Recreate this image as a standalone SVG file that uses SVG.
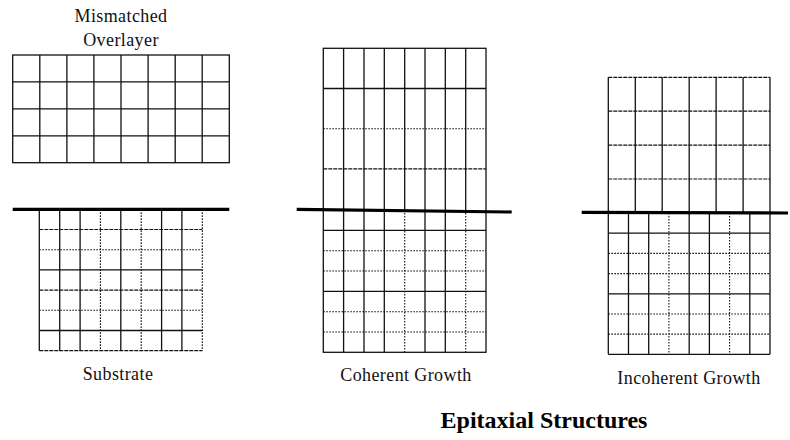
<svg xmlns="http://www.w3.org/2000/svg" width="790" height="440" viewBox="0 0 790 440">
<style>
.g{fill:none;stroke:#111;stroke-width:1.3}
.d{fill:none;stroke:#111;stroke-width:1.1;stroke-dasharray:1.6 1.4}
.f{fill:none;stroke:#111;stroke-width:1.2;stroke-dasharray:4 1}
.t{stroke:#000;stroke-width:3.2;fill:none}
.lb{font-family:"Liberation Serif","Times New Roman",serif;font-size:18px;fill:#111;text-anchor:middle;letter-spacing:0.4px}
.ti{font-family:"Liberation Serif","Times New Roman",serif;font-size:24px;font-weight:bold;fill:#000;text-anchor:middle}
</style>
<rect width="790" height="440" fill="#fff"/>
<g id="mismatched-overlayer">
<rect class="g" x="12.7" y="55" width="216.6" height="107.7"/>
<path class="g" d="M39.8 55V162.7M66.9 55V162.7M93.9 55V162.7M121 55V162.7M148.1 55V162.7M175.2 55V162.7M202.2 55V162.7M12.7 81.9H229.3M12.7 108.9H229.3M12.7 135.8H229.3"/>
<text class="lb" x="121" y="22">Mismatched</text>
<text class="lb" x="121" y="46">Overlayer</text>
</g>
<g id="substrate">
<path class="g" d="M39.3 209.3V350.7M59.7 209.3V350.7M80.1 209.3V350.7M120.8 209.3V350.7M161.6 209.3V350.7M181.9 209.3V350.7"/>
<path class="d" d="M100.4 209.3V350.7M141.2 209.3V350.7M202.3 209.3V350.7"/>
<path class="g" d="M39.3 269.9H202.3M39.3 330.5H202.3"/>
<path class="f" d="M39.3 229.5H202.3M39.3 290.1H202.3M39.3 350.7H202.3"/>
<path class="d" d="M39.3 249.7H202.3M39.3 310.3H202.3"/>
<text class="lb" x="118" y="380">Substrate</text>
</g>
<g id="coherent-growth">
<rect class="g" x="323.3" y="48.3" width="162.7" height="304"/>
<path class="g" d="M343.6 48.3V352.3M364 48.3V352.3M384.3 48.3V352.3M425 48.3V352.3M445.3 48.3V352.3M404.7 48.3V210M465.7 48.3V210"/>
<path class="d" d="M404.7 210V352.3M465.7 210V352.3"/>
<path class="g" d="M323.3 88.5H486M323.3 230.3H486M323.3 291.3H486"/>
<path class="d" d="M323.3 128.7H486M323.3 250.7H486M323.3 271H486M323.3 311.7H486M323.3 332H486"/>
<path class="f" d="M323.3 168.8H486"/>
<text class="lb" x="406" y="381">Coherent Growth</text>
</g>
<g id="incoherent-growth">
<path class="g" d="M608.3 77.3V354.3M770 77.3V354.3M635.3 77.3V212.9M662.2 77.3V212.9M689.2 77.3V212.9M716.1 77.3V212.9M743.1 77.3V212.9"/>
<path class="f" d="M608.3 77.3H770M608.3 111.2H770M608.3 145.1H770M608.3 179H770"/>
<path class="g" d="M628.5 213V354.3M648.7 213V354.3M689.2 213V354.3M709.4 213V354.3M749.8 213V354.3M608.3 354.3H770M608.3 233.2H770M608.3 293.8H770"/>
<path class="d" d="M668.9 213V354.3M729.6 213V354.3M608.3 253.4H770M608.3 273.6H770M608.3 314H770M608.3 334.1H770"/>
<text class="lb" x="689" y="384">Incoherent Growth</text>
</g>
<g id="interfaces">
<path class="t" d="M12.7 209.3H229.3"/>
<path class="t" d="M296.7 209.3L511.7 212"/>
<path class="t" d="M581.7 212.3L788 213"/>
</g>
<g id="title">
<text class="ti" x="544" y="428">Epitaxial Structures</text>
</g>
</svg>
